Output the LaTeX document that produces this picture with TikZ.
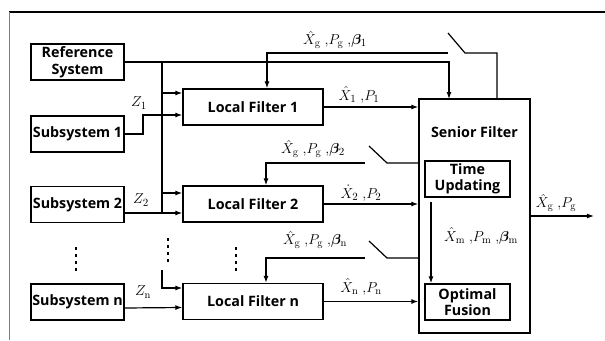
\documentclass[tikz,border=0pt]{standalone}
\usepackage{amsmath,amssymb,bm}
\usepackage{fontspec}
\setsansfont{Open Sans}
\usetikzlibrary{arrows.meta,positioning}

\begin{document}
\begin{tikzpicture}[
        x=1pt, y=-1pt,
        box/.style={rectangle, draw, line width=1.3pt, inner sep=0pt, align=center, font=\sffamily\bfseries\fontsize{14.3}{16.5}\selectfont},
        unit/.style={box, minimum width=93pt, minimum height=36pt},
        filt/.style={box, minimum width=140pt, minimum height=36pt},
        inner/.style={box, minimum width=85pt, minimum height=36pt},
        arrow/.style={-{Latex[length=7pt,width=5pt]}, line width=1.2pt},
        wire/.style={line width=1.2pt},
        lab/.style={font=\fontsize{15}{17}\selectfont, inner sep=0pt},
        vdots/.style={line width=2pt, dash pattern=on 3pt off 4pt}
    ]
    \useasboundingbox (0,0) rectangle (605,340);
    % frame
    \draw[line width=1.5pt] (9,12) -- (605,12);
    \draw[gray, line width=0.6pt] (9,12) -- (9,340);

    % subsystems
    \node[unit] (ref) at (77.5,62) {Reference\\System};
    \node[unit] (sub1) at (77.5,134) {Subsystem 1};
    \node[unit] (sub2) at (77.5,204.5) {Subsystem 2};
    \node[unit] (subn) at (77.5,302) {Subsystem n};

    % local filters
    \node[filt] (lf1) at (253,107) {Local Filter 1};
    \node[filt] (lf2) at (253,204) {Local Filter 2};
    \node[filt] (lfn) at (253,301.5) {Local Filter n};

    % senior filter
    \node[box, minimum width=111pt, minimum height=234pt] (sf) at (474.5,216) {};
    \node[box, draw=none] (sftitle) at (474.5,132) {Senior Filter};
    \node[inner] (tu) at (467.5,179) {Time\\Updating};
    \node[inner] (of) at (467.5,302) {Optimal\\Fusion};

    \coordinate (bustop) at (162,62);
    \coordinate (busbot) at (162,213);
    \coordinate (tap1) at (162,93);
    \coordinate (tap2) at (162,193);
    \coordinate (z1) at (143,115);
    \coordinate (busn) at (162,270);
    \coordinate (refin) at (449,99);
    \coordinate (sw1a) at (448,53);
    \coordinate (sw1b) at (448,33);
    \coordinate (sw1c) at (465,53);
    \coordinate (fb1) at (497,99);
    \coordinate (sw2a) at (365,163);
    \coordinate (sw2b) at (369,146);
    \coordinate (sw2c) at (387,163);
    \coordinate (sw3a) at (365,258);
    \coordinate (sw3b) at (369,241);
    \coordinate (sw3c) at (387,258);
    \coordinate (out) at (594,216);

    % measurements and reference
    \draw[arrow] (ref.east) -| (refin);
    \draw[wire] (bustop) -- (busbot);
    \draw[arrow] (tap1) -- (tap1 -| lf1.west);
    \draw[arrow] (sub1.east) -| (z1) -- (z1 -| lf1.west);
    \draw[arrow] (tap2) -- (tap2 -| lf2.west);
    \draw[arrow] (busbot -| sub2.east) -- (busbot -| lf2.west);
    \draw[arrow] (busn) |- ([yshift=13.5pt]lfn.west);
    \draw[arrow] ([yshift=-6pt]subn.east) -- ([yshift=-6pt]lfn.west);

    % feedback with switches
    \draw[arrow] (sw1a) -| ([xshift=14pt]lf1.north);
    \draw[wire] (sw1b) -- (sw1c) -| (fb1);
    \draw[arrow] (sw2a) -| ([xshift=13pt]lf2.north);
    \draw[wire] (sw2b) -- (sw2c) -- (sw2c -| sf.west);
    \draw[arrow] (sw3a) -| ([xshift=13pt]lfn.north);
    \draw[wire] (sw3b) -- (sw3c) -- (sw3c -| sf.west);

    % local estimates
    \draw[arrow] (lf1.east) -- (lf1.east -| sf.west);
    \draw[arrow] (lf2.east) -- (lf2.east -| sf.west);
    \draw[arrow] (lfn.east) -- (lfn.east -| sf.west);
    \draw[arrow, shorten <=4pt] ([xshift=-36.5pt]tu.south) -- ([xshift=-36.5pt]of.north);
    \draw[arrow] (sf.east) -- (out);

    % dots
    \draw[vdots] (76,247) -- (76,271);
    \draw[vdots] (168,238) -- (168,262);
    \draw[vdots] (236,247) -- (236,271);

    % labels
    \node[lab] (lz1) at (139,103) {$Z_1$};
    \node[lab] (lz2) at (141,200) {$Z_2$};
    \node[lab] (lzn) at (143,292) {$Z_{\mathrm{n}}$};
    \node[lab] (lb1) at (335,40) {$\hat{X}_{\mathrm{g}}\;,\!P_{\mathrm{g}}\;,\!\bm{\beta}_1$};
    \node[lab] (lb2) at (313,149) {$\hat{X}_{\mathrm{g}}\;,\!P_{\mathrm{g}}\;,\!\bm{\beta}_2$};
    \node[lab] (lbn) at (315,240) {$\hat{X}_{\mathrm{g}}\;,\!P_{\mathrm{g}}\;,\!\bm{\beta}_{\mathrm{n}}$};
    \node[lab] (le1) at (359,95) {$\hat{X}_1\;,\!P_1$};
    \node[lab] (le2) at (361,193) {$\dot{X}_2\;,\!P_2$};
    \node[lab] (len) at (361,287) {$\hat{X}_{\mathrm{n}}\;,\!P_{\mathrm{n}}$};
    \node[lab] (lm) at (481,236) {$\hat{X}_{\mathrm{m}}\;,\!P_{\mathrm{m}}\;,\!\bm{\beta}_{\mathrm{m}}$};
    \node[lab] (lg) at (556,203) {$\hat{X}_{\mathrm{g}}\;,\!P_{\mathrm{g}}$};
\end{tikzpicture}
\end{document}
